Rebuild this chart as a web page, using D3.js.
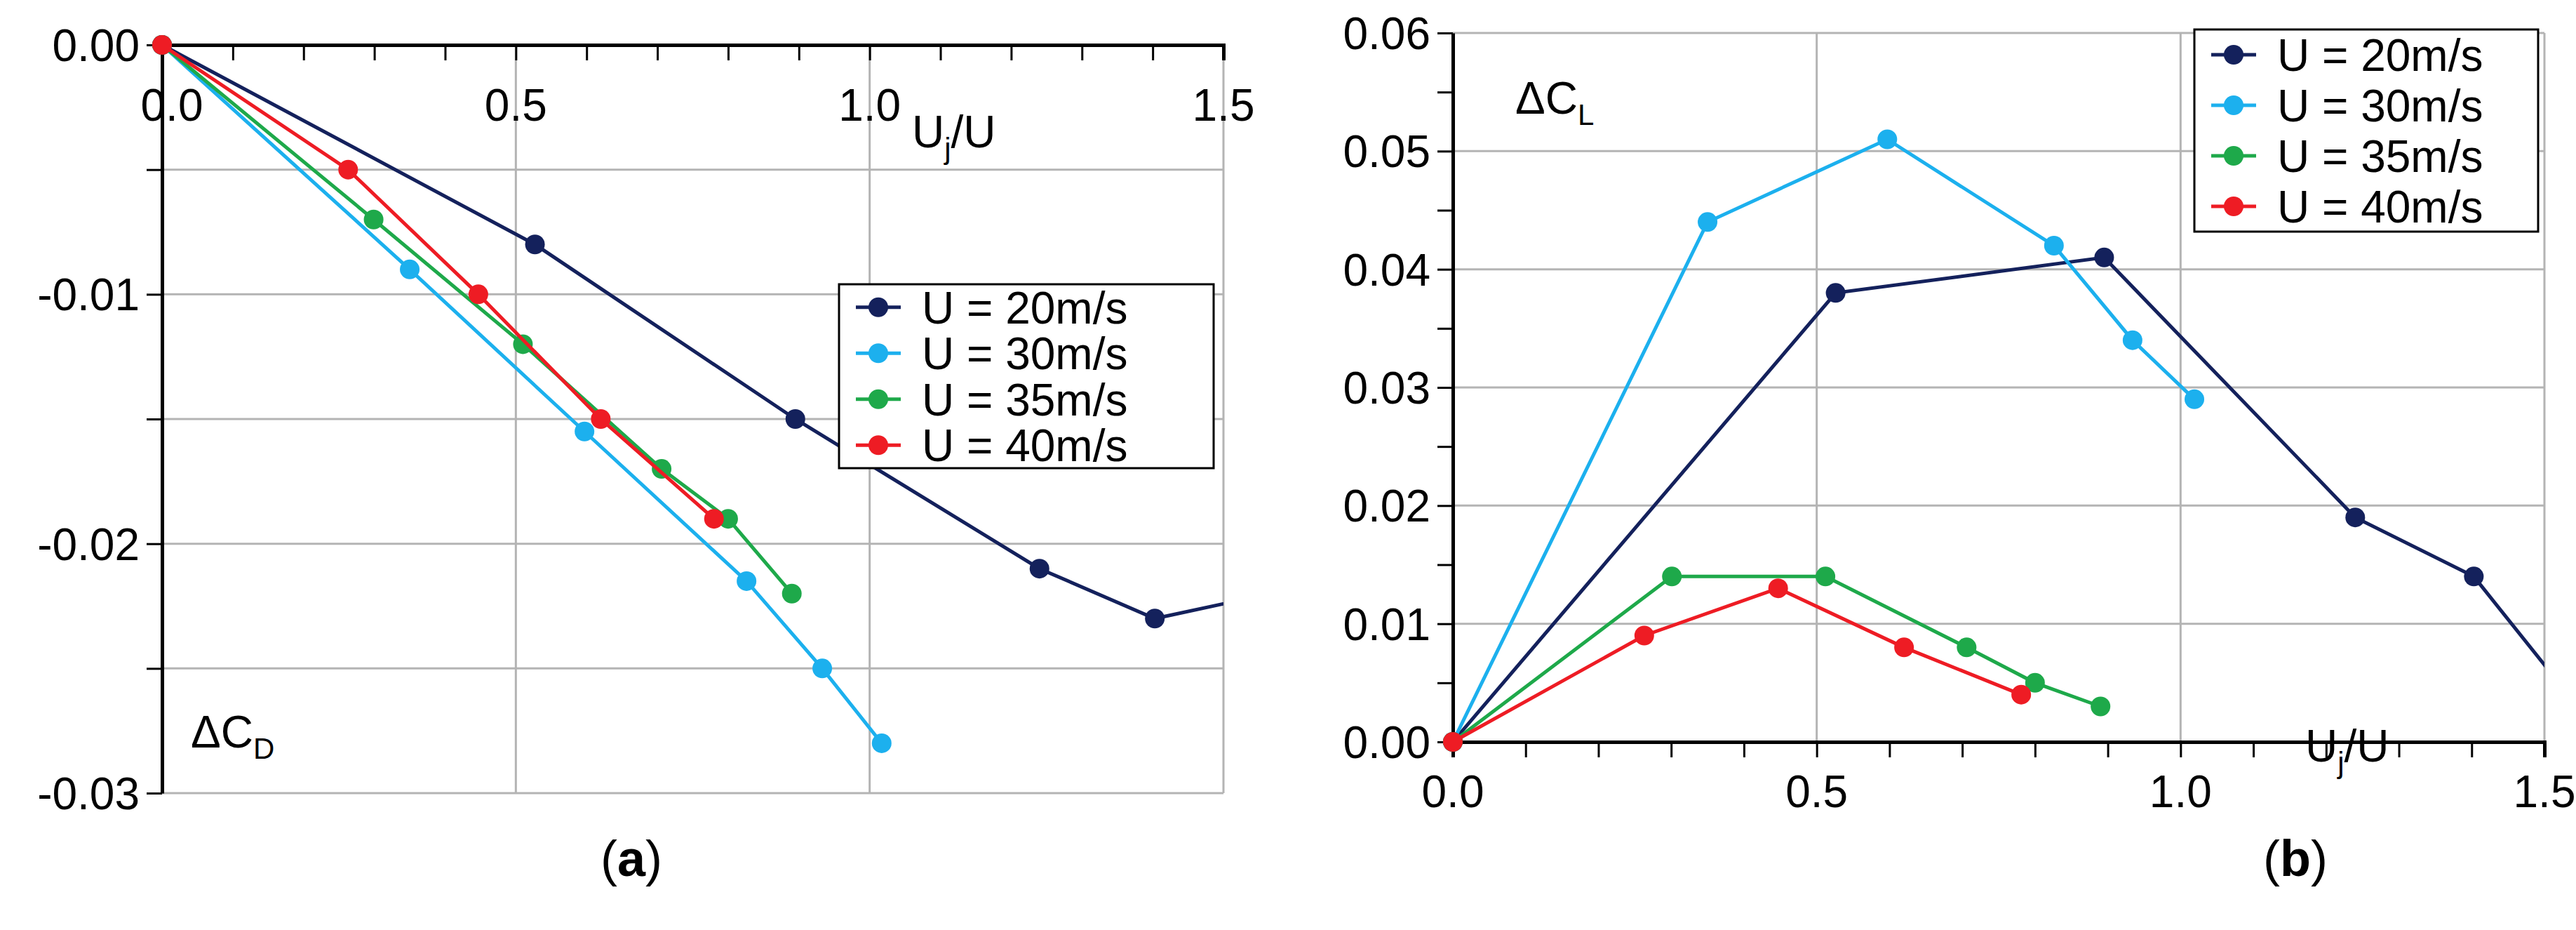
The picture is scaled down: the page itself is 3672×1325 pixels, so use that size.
<!DOCTYPE html><html><head><meta charset="utf-8">
<script src="https://cdn.jsdelivr.net/npm/d3@7"></script>
<style>body{margin:0;background:#fff}text{font-family:"Liberation Sans",Arial,sans-serif}</style></head><body>
<svg id="c" width="3672" height="1325"></svg>
<script>
const seriesNames=["U = 20m/s","U = 30m/s","U = 35m/s","U = 40m/s"];
const colors=["#14215c","#1cb0ee","#1ea94a","#ee1c24"];
const dragX=[[0,0.527,0.895,1.24,1.403,1.6],[0,0.35,0.597,0.826,0.933,1.017],[0,0.299,0.51,0.706,0.8,0.89],[0,0.263,0.447,0.62,0.78]];
const dragY=[[0,-0.008,-0.015,-0.021,-0.023,-0.0218],[0,-0.009,-0.0155,-0.0215,-0.025,-0.028],[0,-0.007,-0.012,-0.017,-0.019,-0.022],[0,-0.005,-0.010,-0.015,-0.019]];
const liftX=[[0,0.526,0.895,1.24,1.403,1.6],[0,0.35,0.597,0.826,0.934,1.019],[0,0.301,0.512,0.706,0.8,0.89],[0,0.263,0.447,0.62,0.781]];
const liftY=[[0,0.038,0.041,0.019,0.014,-0.0012],[0,0.044,0.051,0.042,0.034,0.029],[0,0.014,0.014,0.008,0.005,0.003],[0,0.009,0.013,0.008,0.004]];
const leftYTicks=[0,-0.01,-0.02,-0.03], leftYLabels=["0.00","-0.01","-0.02","-0.03"];
const rightYTicks=[0,0.01,0.02,0.03,0.04,0.05,0.06], rightYLabels=["0.00","0.01","0.02","0.03","0.04","0.05","0.06"];
const xTicks=[0,0.5,1.0,1.5], xLabelsL=["0.0","0.5","1.0","1.5"];
const svg=d3.select("#c");
const FS=64, SUB=42, R=14;
function panel(o){
  const g=svg.append("g");
  const x=d3.scaleLinear().domain([0,1.5]).range([o.x0,o.x1]);
  const y=d3.scaleLinear().domain(o.yd).range([o.yTop,o.yBot]);
  o.hGrid.forEach(v=>g.append("line").attr("x1",x(0)).attr("x2",x(1.5)).attr("y1",y(v)).attr("y2",y(v)).attr("stroke","#b4b4b4").attr("stroke-width",3));
  [0.5,1.0,1.5].forEach(v=>g.append("line").attr("x1",x(v)).attr("x2",x(v)).attr("y1",o.yTop).attr("y2",o.yBot).attr("stroke","#b4b4b4").attr("stroke-width",3));
  const xa=g.append("g").attr("transform",`translate(0,${y(0)})`).call(d3.axisBottom(x).tickValues(d3.range(0,1.51,0.1)).tickSize(22).tickFormat(""));
  xa.select(".domain").attr("stroke-width",5);xa.selectAll("line").attr("stroke-width",3);
  const ya=g.append("g").attr("transform",`translate(${x(0)},0)`).call(d3.axisLeft(y).tickValues(o.yMinor).tickSize(22).tickFormat("").tickSizeOuter(0));
  ya.select(".domain").attr("stroke-width",5);ya.selectAll("line").attr("stroke-width",3);
  o.yT.forEach((v,i)=>g.append("text").attr("x",x(0)-32).attr("y",y(v)).attr("dy","0.36em").attr("text-anchor","end").attr("font-size",FS).text(o.yL[i]));
  xTicks.forEach((v,i)=>g.append("text").attr("x",x(v)+(v===0&&o.id==="a"?14:0)).attr("y",o.xLabY).attr("text-anchor","middle").attr("font-size",FS).text(xLabelsL[i]));
  const cid="clip"+o.id;
  svg.append("clipPath").attr("id",cid).append("rect").attr("x",x(0)-20).attr("y",o.yTop-20).attr("width",x(1.5)-x(0)+20).attr("height",o.yBot-o.yTop+40);
  const pg=g.append("g").attr("clip-path",`url(#${cid})`);
  o.X.forEach((xs,s)=>{
    const pts=xs.map((v,i)=>[v,o.Y[s][i]]);
    pg.append("path").datum(pts).attr("fill","none").attr("stroke",colors[s]).attr("stroke-width",5)
      .attr("d",d3.line().x(d=>x(d[0])).y(d=>y(d[1])));
    pg.selectAll(null).data(pts.filter(d=>d[0]<=1.5)).enter().append("circle").attr("cx",d=>x(d[0])).attr("cy",d=>y(d[1])).attr("r",R).attr("fill",colors[s]);
  });
  const L=o.leg;
  g.append("rect").attr("x",L.x).attr("y",L.y).attr("width",L.w).attr("height",L.h).attr("fill","#fff").attr("stroke","#000").attr("stroke-width",3);
  seriesNames.forEach((n,i)=>{
    const cy=L.y+L.h/8*(2*i+1);
    g.append("line").attr("x1",L.x+24).attr("x2",L.x+88).attr("y1",cy).attr("y2",cy).attr("stroke",colors[i]).attr("stroke-width",5);
    g.append("circle").attr("cx",L.x+56).attr("cy",cy).attr("r",R).attr("fill",colors[i]);
    g.append("text").attr("x",L.x+118).attr("y",cy).attr("dy","0.36em").attr("font-size",FS).text(n);
  });
  const ax=g.append("text").attr("x",o.ujx).attr("y",o.ujy).attr("font-size",FS);
  ax.append("tspan").text("U");ax.append("tspan").attr("font-size",SUB).attr("dy",16).text("j");ax.append("tspan").attr("dy",-16).text("/U");
  const cl=g.append("text").attr("x",o.cx).attr("y",o.cy).attr("font-size",FS);
  cl.append("tspan").text("ΔC");cl.append("tspan").attr("font-size",SUB).attr("dy",16).text(o.sub);
  const cap=g.append("text").attr("x",o.capx).attr("y",1248).attr("text-anchor","middle").attr("font-size",72).attr("font-family","Liberation Serif,serif");
  cap.append("tspan").text("(");cap.append("tspan").attr("font-weight","bold").text(o.cap);cap.append("tspan").text(")");
}
panel({id:"a",x0:231,x1:1744,yd:[0,-0.03],yTop:64,yBot:1130,hGrid:[-0.005,-0.01,-0.015,-0.02,-0.025,-0.03],yMinor:[0,-0.005,-0.01,-0.015,-0.02,-0.025,-0.03],
  yT:leftYTicks,yL:leftYLabels,xLabY:172,X:dragX,Y:dragY,leg:{x:1196,y:405,w:534,h:262},ujx:1300,ujy:210,cx:272,cy:1065,sub:"D",cap:"a",capx:900});
panel({id:"b",x0:2071,x1:3627,yd:[0.06,0],yTop:47,yBot:1057,hGrid:[0.01,0.02,0.03,0.04,0.05,0.06],yMinor:d3.range(0,0.0601,0.005),
  yT:rightYTicks,yL:rightYLabels,xLabY:1150,X:liftX,Y:liftY,leg:{x:3128,y:42,w:490,h:288},ujx:3286,ujy:1085,cx:2160,cy:162,sub:"L",cap:"b",capx:3272});
</script></body></html>
